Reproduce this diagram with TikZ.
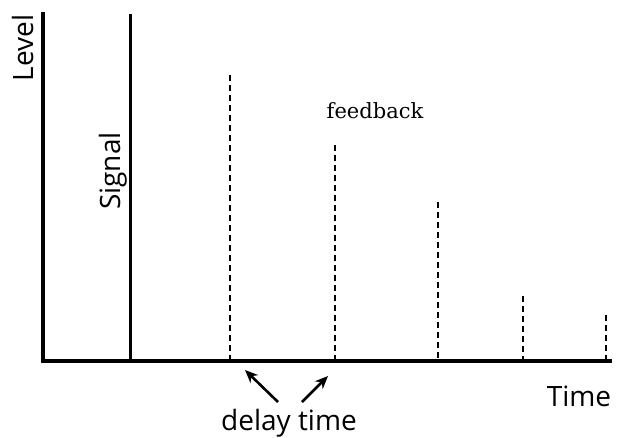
\documentclass[tikz,border=0pt]{standalone}
\usepackage{fontspec}
\setmainfont{Open Sans}
\newfontfamily\serifface{DejaVu Serif}
\usetikzlibrary{arrows.meta}
\tikzset{
  axisline/.style={line width=4.5pt},
  signalline/.style={line width=3pt},
  echoline/.style={line width=1.9pt, dash pattern=on 6pt off 4pt},
  pointer/.style={line width=2.6pt, -{Stealth[length=13pt,width=11pt]}},
  label/.style={inner sep=0pt, font=\fontsize{28}{30}\selectfont},
}
\begin{document}
\begin{tikzpicture}[x=1pt,y=-1pt]
\useasboundingbox (0,0) rectangle (620,437);
% axes
\coordinate (origin) at (43,361);
\coordinate (ytop) at (43,12);
\coordinate (xend) at (612,361);
\draw[axisline] (ytop) -- (origin) -- (xend);
% original signal
\coordinate (sigtop) at (130,14);
\coordinate (sigbase) at (130,361);
\draw[signalline] (sigtop) -- (sigbase);
% echoes
\foreach \n/\x/\t in {e1/230/75, e2/335/145, e3/438/202, e4/523/296, e5/606/315} {
  \coordinate (\n top) at (\x,\t);
  \coordinate (\n base) at (\x,359);
  \draw[echoline] (\n top) -- (\n base);
}
% labels
\node[label, rotate=90, anchor=base] (level) at (33,48) {Level};
\node[label, rotate=90, anchor=base] (signal) at (120,171) {Signal};
\node[label, anchor=base] (time) at (579,406) {Time};
\node[label, anchor=base] (delay) at (289,430) {delay time};
\node[inner sep=0pt, anchor=base, font=\serifface\fontsize{21}{23}\selectfont] (feedback) at (375,118) {feedback};
% pointers to the delays
\coordinate (p1tail) at (278,402);
\coordinate (p1tip) at (245,370);
\coordinate (p2tail) at (302,402);
\coordinate (p2tip) at (328,376);
\draw[pointer] (p1tail) -- (p1tip);
\draw[pointer] (p2tail) -- (p2tip);
\end{tikzpicture}
\end{document}
